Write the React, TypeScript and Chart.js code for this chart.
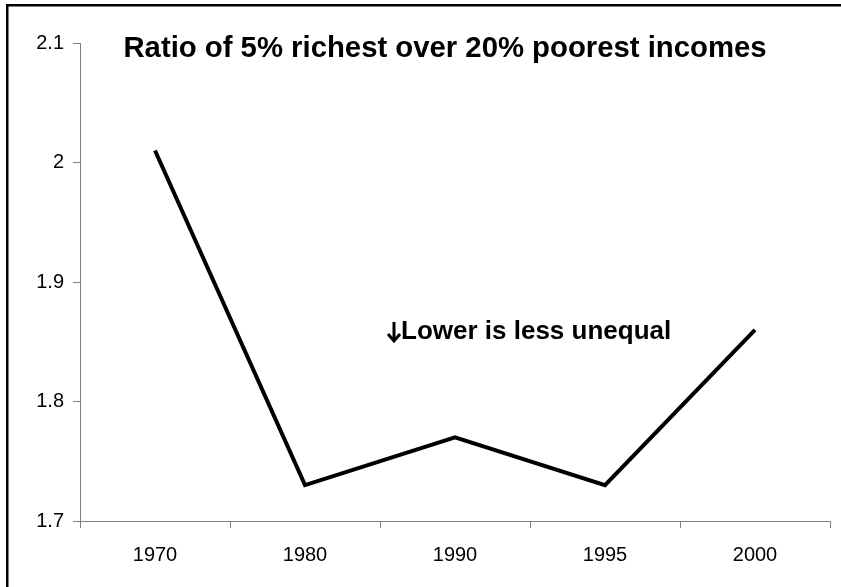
import React, { useEffect, useRef } from "react";
import { Chart, registerables } from "chart.js";

Chart.register(...registerables);

const years = ["1970", "1980", "1990", "1995", "2000"];
const ratioValues = [2.01, 1.73, 1.77, 1.73, 1.86];
const yTickValues = [1.7, 1.8, 1.9, 2.0, 2.1];
const titleText = "Ratio of 5% richest over 20% poorest incomes";
const noteText = "Lower is less unequal";

const FONT = "Arial, 'Liberation Sans', Helvetica, sans-serif";

const decorPlugin = {
  id: "decor",
  afterDraw(chart: any) {
    const ctx = chart.ctx;
    ctx.save();
    // frame (left and top edges visible)
    ctx.fillStyle = "#000";
    ctx.fillRect(6, 4, 2.5, chart.height);
    ctx.fillRect(6, 4, chart.width, 2.5);
    // title
    ctx.font = `bold 29.3px ${FONT}`;
    ctx.textAlign = "center";
    ctx.textBaseline = "middle";
    ctx.fillText(titleText, 445, 49);
    // note: bold down arrow drawn as strokes, then text
    const ax = 394;
    const ay = 332;
    ctx.strokeStyle = "#000";
    ctx.lineWidth = 3;
    ctx.lineCap = "butt";
    ctx.lineJoin = "miter";
    ctx.beginPath();
    ctx.moveTo(ax, ay - 10);
    ctx.lineTo(ax, ay + 8);
    ctx.stroke();
    ctx.beginPath();
    ctx.moveTo(ax - 6, ay + 2);
    ctx.lineTo(ax, ay + 9);
    ctx.lineTo(ax + 6, ay + 2);
    ctx.stroke();
    ctx.textAlign = "left";
    ctx.font = `bold 26px ${FONT}`;
    ctx.fillText(noteText, 401, 332);
    ctx.restore();
  },
};

export default function App() {
  const ref = useRef<HTMLCanvasElement | null>(null);
  useEffect(() => {
    if (!ref.current) return;
    const chart = new Chart(ref.current, {
      type: "line",
      data: {
        labels: years,
        datasets: [
          {
            data: ratioValues,
            borderColor: "#000",
            borderWidth: 4,
            pointRadius: 0,
            tension: 0,
            fill: false,
          },
        ],
      },
      options: {
        animation: false,
        responsive: false,
        maintainAspectRatio: false,
        layout: { padding: { top: 43, right: 11, bottom: 0, left: 0 } },
        plugins: { legend: { display: false }, tooltip: { enabled: false }, title: { display: false } },
        scales: {
          x: {
            type: "category",
            offset: true,
            grid: { offset: true, drawOnChartArea: false, tickLength: 7, color: "#808080", lineWidth: 1 },
            border: { color: "#808080", width: 1 },
            ticks: { color: "#000", font: { family: FONT, size: 20 }, padding: 15, maxRotation: 0 },
            afterFit: (s: any) => {
              s.height = 66;
            },
          },
          y: {
            type: "linear",
            min: 1.7,
            max: 2.1,
            afterBuildTicks: (s: any) => {
              s.ticks = yTickValues.map((v) => ({ value: v }));
            },
            grid: { drawOnChartArea: false, tickLength: 7, color: "#808080", lineWidth: 1 },
            border: { color: "#808080", width: 1 },
            ticks: {
              color: "#000",
              font: { family: FONT, size: 20 },
              padding: 9,
              callback: (v: any) => String(parseFloat(Number(v).toFixed(1))),
            },
            afterFit: (s: any) => {
              s.width = 80;
            },
          },
        },
      },
      plugins: [decorPlugin],
    });
    return () => chart.destroy();
  }, []);
  return (
    <div style={{ position: "fixed", left: 0, top: 0, width: 841, height: 587, background: "#fff" }}>
      <canvas ref={ref} width={841} height={587} style={{ display: "block" }} />
    </div>
  );
}
